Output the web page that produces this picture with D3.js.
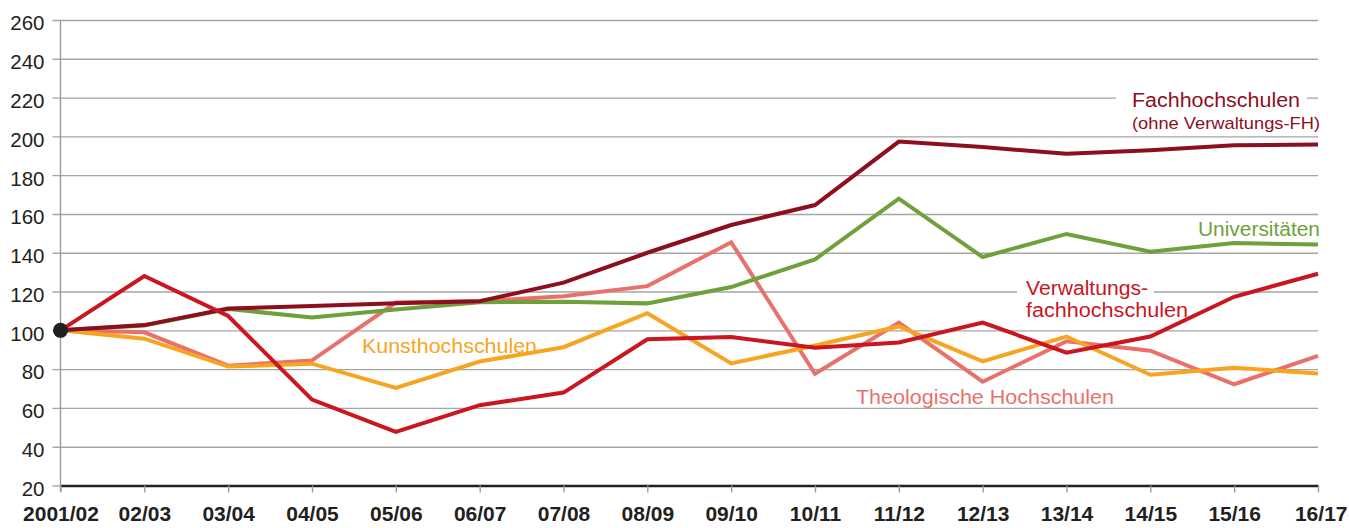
<!DOCTYPE html>
<html>
<head>
<meta charset="utf-8">
<script src="https://cdn.jsdelivr.net/npm/d3@7"></script>
<style>
  html, body { margin: 0; padding: 0; background: #fff; }
  svg { display: block; font-family: "Liberation Sans", Arial, Helvetica, sans-serif; }
</style>
</head>
<body>
<svg id="chart" width="1349" height="528"></svg>
<script>
const categories = ["2001/02","02/03","03/04","04/05","05/06","06/07","07/08","08/09","09/10","10/11","11/12","12/13","13/14","14/15","15/16","16/17"];
const yTicks = [20,40,60,80,100,120,140,160,180,200,220,240,260];

const fachhochschulen   = [100,102.7,111.3,112.5,114,115,124.6,140,154.3,164.6,197.3,194.5,191,192.8,195.4,195.8];
const universitaeten    = [100,102.5,111,106.6,110.7,114.5,114.8,113.9,122.3,136.6,167.9,137.8,149.7,140.5,145,144.3];
const verwaltungsFH     = [100,128,107.4,64.3,47.6,61.4,67.9,95.4,96.6,91,93.7,104,88.5,96.8,117.3,129.2];
const kunsthochschulen  = [100,95.7,81.3,82.8,70.3,83.9,91.3,108.8,82.9,92.2,102,84,96.8,77.1,80.7,77.8];
const theologische      = [100,99,81.8,84.5,114.3,115.1,117.6,122.8,145.4,77.6,104,73.5,94.4,89.5,72.2,86.8];

const series = [
  { name: "Theologische Hochschulen", values: theologische, color: "#e9716b" },
  { name: "Kunsthochschulen", values: kunsthochschulen, color: "#f7a521" },
  { name: "Universitäten", values: universitaeten, color: "#6ea13b" },
  { name: "Fachhochschulen", values: fachhochschulen, color: "#8d0f1f" },
  { name: "Verwaltungsfachhochschulen", values: verwaltungsFH, color: "#c9161f" }
];

const svg = d3.select("#chart");
const mLeft = 60.5, mRight = 1318, mTop = 20, mBottom = 485.5;

const x = d3.scalePoint().domain(categories).range([mLeft, mRight]);
const y = d3.scaleLinear().domain([20, 260]).range([mBottom, mTop]);

// gridlines (with left tick stubs)
const yAxis = d3.axisLeft(y).tickValues(yTicks).tickSize(-(mRight - mLeft)).tickSizeOuter(0).tickPadding(16);
const gy = svg.append("g").attr("transform", `translate(${mLeft},0)`).call(yAxis);
gy.select(".domain").remove();
gy.selectAll(".tick line").attr("x1", -8).attr("stroke", "#a5a5a5").attr("stroke-width", 1.4);
gy.selectAll(".tick text").attr("fill", "#231f20").attr("font-size", 20.5).attr("dy", "0.48em");
gy.selectAll(".tick").filter(d => d === 20).select("line").attr("x2", 0);

// left vertical axis line
svg.append("line").attr("x1", mLeft).attr("x2", mLeft).attr("y1", mTop).attr("y2", mBottom + 6)
  .attr("stroke", "#9a9a9a").attr("stroke-width", 1.4);

// bottom axis
const xAxis = d3.axisBottom(x).tickSize(7).tickSizeOuter(0).tickPadding(14);
const gx = svg.append("g").attr("transform", `translate(0,${mBottom})`).call(xAxis);
gx.select(".domain").attr("stroke", "#231f20").attr("stroke-width", 2.4);
gx.selectAll(".tick line").attr("stroke", "#9a9a9a").attr("stroke-width", 1.4);
gx.selectAll(".tick text").attr("fill", "#231f20").attr("font-size", 21).attr("font-weight", "bold");
gx.selectAll(".tick").filter(d => d === categories[categories.length - 1]).select("text")
  .attr("text-anchor", "end").attr("dx", 29);

// labels with white background gaps
function label(lines, xPos, yPos, color, sizes, lengths, anchor, bg) {
  const g = svg.append("g");
  if (bg) g.append("rect").attr("x", bg[0]).attr("y", bg[1]).attr("width", bg[2]).attr("height", bg[3]).attr("fill", "#fff");
  lines.forEach((t, i) => {
    g.append("text").attr("x", xPos).attr("y", yPos[i]).attr("fill", color)
      .attr("font-size", sizes[i]).attr("text-anchor", anchor || "start")
      .attr("textLength", lengths[i]).attr("lengthAdjust", "spacingAndGlyphs").text(t);
  });
}
label(["Fachhochschulen", "(ohne Verwaltungs-FH)"], 1132, [106.5, 128.5], "#8d0f1f", [19.5, 17], [168, 188], "start", [1116, 90, 191, 14]);
label(["Verwaltungs-", "fachhochschulen"], 1026, [295, 317], "#c9161f", [19.5, 19.5], [122, 162], "start", [1017, 284, 137, 14]);
label(["Universitäten"], 1320, [236], "#6ea13b", [19.5], [122], "end");
label(["Kunsthochschulen"], 362, [353], "#f7a521", [19.5], [175], "start");
label(["Theologische Hochschulen"], 856, [404], "#e9716b", [19.5], [258], "start");

// lines
const line = d3.line().x((d, i) => x(categories[i])).y(d => y(d)).curve(d3.curveLinear);
svg.append("g").selectAll("path").data(series).join("path")
  .attr("d", d => line(d.values))
  .attr("fill", "none")
  .attr("stroke", d => d.color)
  .attr("stroke-width", 4)
  .attr("stroke-linejoin", "miter")
  .attr("stroke-linecap", "butt");

// start dot
svg.append("circle").attr("cx", x(categories[0])).attr("cy", y(100)).attr("r", 7.5).attr("fill", "#231f20");
</script>
</body>
</html>
